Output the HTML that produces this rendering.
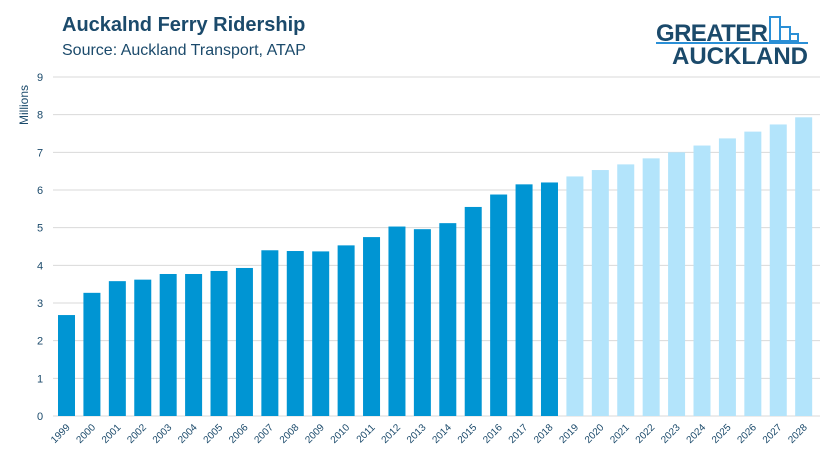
<!DOCTYPE html>
<html><head><meta charset="utf-8"><style>
body{margin:0;background:#fff;font-family:"Liberation Sans",sans-serif;}
</style></head><body>
<svg width="831" height="461" xmlns="http://www.w3.org/2000/svg" font-family="Liberation Sans, sans-serif">
<text x="62" y="31" font-size="20" font-weight="bold" fill="#1b4a6b">Auckalnd Ferry Ridership</text>
<text x="62" y="55" font-size="16" fill="#1b4a6b">Source: Auckland Transport, ATAP</text>
<g>
<text x="656" y="41" font-size="24" font-weight="bold" fill="#1b4a6b" textLength="112">GREATER</text>
<rect x="770" y="17" width="10" height="24" fill="none" stroke="#2a8fd6" stroke-width="2"/>
<rect x="780" y="27" width="10" height="14" fill="none" stroke="#2a8fd6" stroke-width="2"/>
<rect x="790" y="34" width="8" height="7" fill="none" stroke="#2a8fd6" stroke-width="2"/>
<rect x="656" y="42" width="152" height="2" fill="#2a8fd6"/>
<text x="672" y="64" font-size="24" font-weight="bold" fill="#1b4a6b" textLength="136">AUCKLAND</text>
</g>
<text transform="translate(28,105) rotate(-90)" text-anchor="middle" font-size="12" fill="#1b4a6b">Millions</text>
<g id="grid"></g><g id="bars"></g><g id="xl"></g>
</svg>
<script>
const years=["1999","2000","2001","2002","2003","2004","2005","2006","2007","2008","2009","2010","2011","2012","2013","2014","2015","2016","2017","2018","2019","2020","2021","2022","2023","2024","2025","2026","2027","2028"];
const riders=[2.68,3.27,3.58,3.62,3.77,3.77,3.85,3.93,4.4,4.38,4.37,4.53,4.75,5.03,4.96,5.12,5.55,5.88,6.15,6.2,6.36,6.53,6.68,6.84,7.0,7.18,7.37,7.55,7.74,7.93];
const forecastStart="2019";
const yTicks=[0,1,2,3,4,5,6,7,8,9];
const NS="http://www.w3.org/2000/svg";
const y0=416,y9=77;
const ys=v=>y0-(v/9)*(y0-y9);
const xs=i=>66.5+i*25.42;
const g=document.getElementById('grid'),b=document.getElementById('bars'),xl=document.getElementById('xl');
yTicks.forEach(t=>{
 const l=document.createElementNS(NS,'line');
 
 
 l.setAttribute('x1',53);l.setAttribute('x2',820);l.setAttribute('y1',ys(t));l.setAttribute('y2',ys(t));
 l.setAttribute('stroke','#d9d9d9');l.setAttribute('stroke-width','1');g.appendChild(l);
 const tx=document.createElementNS(NS,'text');
 
 
 tx.setAttribute('x',40);tx.setAttribute('y',ys(t)+4);tx.setAttribute('text-anchor','middle');
 tx.setAttribute('font-size','11');tx.setAttribute('fill','#1b4a6b');tx.textContent=t;g.appendChild(tx);
});
const fi=years.indexOf(forecastStart);
riders.forEach((v,i)=>{
 const r=document.createElementNS(NS,'rect');
 
 
 r.setAttribute('x',xs(i)-8.5);r.setAttribute('width',17);
 r.setAttribute('y',ys(v));r.setAttribute('height',y0-ys(v));
 r.setAttribute('fill',i>=fi?'#b3e4fb':'#0095d3');b.appendChild(r);
 const t=document.createElementNS(NS,'text');
 
 
 const x=xs(i)+4,y=428;
 t.setAttribute('transform','translate('+x+','+y+') rotate(-45)');
 t.setAttribute('text-anchor','end');t.setAttribute('font-size','10');t.setAttribute('fill','#1b4a6b');
 t.textContent=years[i];xl.appendChild(t);
});
</script>
</body></html>
